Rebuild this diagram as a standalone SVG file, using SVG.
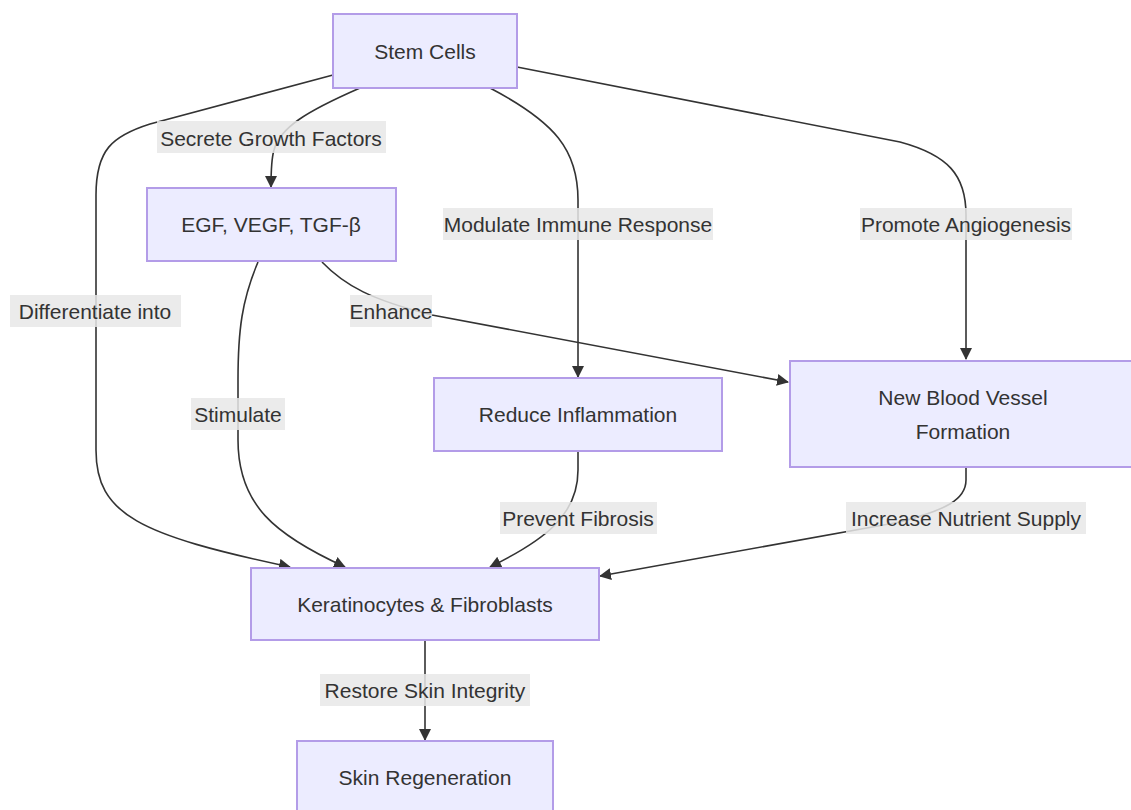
<svg xmlns="http://www.w3.org/2000/svg" width="1131" height="810" viewBox="0 0 1131 810">
<defs>
<marker id="arr" viewBox="0 0 12 12" refX="11" refY="6" markerWidth="12" markerHeight="12" markerUnits="userSpaceOnUse" orient="auto">
<path d="M0,0 L12,6 L0,12 z" fill="#333"/>
</marker>
<style>
.node rect{fill:#ECECFF;stroke:#b39ce8;stroke-width:2}
.node text,.lbl text{font-family:"Liberation Sans",Arial,sans-serif;font-size:21px;fill:#333;text-anchor:middle;dominant-baseline:central}
.edge{fill:none;stroke:#333;stroke-width:1.6;marker-end:url(#arr)}
.lbl rect{fill:#e8e8e8;opacity:0.85}
</style>
</defs>
<rect width="1131" height="810" fill="#fff"/>
<g id="connectors">
<path class="edge" d="M360,88 C305,112 280,128 274,150 C271,160 271,172 271,187"/>
<path class="edge" d="M333,75 L150,124 C112,136 96,150 96,195 L96,450 C96,515 140,535 290,567"/>
<path class="edge" d="M490,88 C555,122 578,150 578,200 L578,377"/>
<path class="edge" d="M517,67 L900,142 C948,155 966,175 966,215 L966,359"/>
<path class="edge" d="M258,262 C242,300 238,330 238,380 L238,440 C238,505 275,535 345,567"/>
<path class="edge" d="M322,262 C345,286 372,300 432,315 L788,382"/>
<path class="edge" d="M578,452 L578,470 C578,515 545,540 490,567"/>
<path class="edge" d="M966,468 L966,480 C966,500 945,510 900,522 L600,576"/>
<path class="edge" d="M425,641 L425,740"/>
</g>
<g id="edge-labels">
<g class="lbl"><rect x="157" y="121" width="229" height="32"/><text x="271" y="138">Secrete Growth Factors</text></g>
<g class="lbl"><rect x="443" y="208" width="270" height="32"/><text x="578" y="224">Modulate Immune Response</text></g>
<g class="lbl"><rect x="860" y="208" width="212" height="32"/><text x="966" y="224">Promote Angiogenesis</text></g>
<g class="lbl"><rect x="10" y="295" width="171" height="32"/><text x="95" y="311">Differentiate into</text></g>
<g class="lbl"><rect x="350" y="295" width="82" height="32"/><text x="391" y="311">Enhance</text></g>
<g class="lbl"><rect x="191" y="398" width="94" height="32"/><text x="238" y="414">Stimulate</text></g>
<g class="lbl"><rect x="500" y="502" width="157" height="32"/><text x="578" y="518">Prevent Fibrosis</text></g>
<g class="lbl"><rect x="846" y="502" width="240" height="32"/><text x="966" y="518">Increase Nutrient Supply</text></g>
<g class="lbl"><rect x="320" y="674" width="210" height="32"/><text x="425" y="690">Restore Skin Integrity</text></g>
</g>
<g id="stem" class="node"><rect x="333" y="14" width="184" height="74"/><text x="425" y="51">Stem Cells</text></g>
<g id="egf" class="node"><rect x="147" y="188" width="249" height="73"/><text x="271" y="224">EGF, VEGF, TGF-β</text></g>
<g id="reduce" class="node"><rect x="434" y="378" width="288" height="73"/><text x="578" y="414">Reduce Inflammation</text></g>
<g id="vessel" class="node"><rect x="790" y="361" width="346" height="106"/><text x="963" y="397">New Blood Vessel</text><text x="963" y="431">Formation</text></g>
<g id="kera" class="node"><rect x="251" y="568" width="348" height="72"/><text x="425" y="604">Keratinocytes &amp; Fibroblasts</text></g>
<g id="skin" class="node"><rect x="297" y="741" width="256" height="74"/><text x="425" y="777">Skin Regeneration</text></g>
</svg>
